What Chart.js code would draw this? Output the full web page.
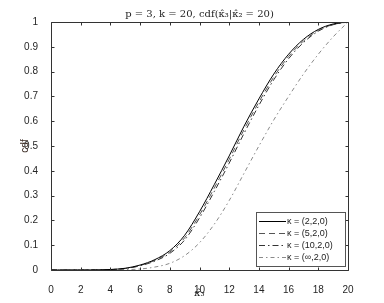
<!DOCTYPE html>
<html><head><meta charset="utf-8">
<script src="https://cdn.jsdelivr.net/npm/chart.js@4/dist/chart.umd.min.js"></script>
<style>html,body{margin:0;padding:0;background:#fff}canvas{display:block}</style>
</head><body>
<canvas id="c" width="384" height="303"></canvas>
<script>
const xValues = [0,1,2,3,4,5,6,7,8,9,10,11,12,13,14,15,16,17,18,19,20];
const cdf_2_2_0 = [0,0,0,0.0005,0.002,0.007,0.02,0.042,0.078,0.14,0.235,0.345,0.46,0.58,0.69,0.79,0.87,0.93,0.97,0.992,1];
const cdf_5_2_0 = [0,0,0,0.0004,0.0018,0.0062,0.018,0.039,0.072,0.13,0.222,0.331,0.446,0.566,0.677,0.778,0.861,0.923,0.966,0.99,1];
const cdf_10_2_0 = [0,0,0,0.0003,0.0016,0.0055,0.017,0.036,0.067,0.121,0.21,0.317,0.431,0.551,0.664,0.767,0.852,0.917,0.963,0.989,1];
const cdf_inf_2_0 = [0,0,0,0,0.0005,0.0015,0.004,0.012,0.027,0.058,0.11,0.185,0.28,0.39,0.5,0.605,0.7,0.79,0.87,0.94,1];
const seriesLabels = ['κ = (2,2,0)','κ = (5,2,0)','κ = (10,2,0)','κ = (∞,2,0)'];
const xTicks = [0,2,4,6,8,10,12,14,16,18,20];
const yTicks = [0,0.1,0.2,0.3,0.4,0.5,0.6,0.7,0.8,0.9,1];
const titleText = 'p = 3, k = 20, cdf(κ̂₃|κ̂₂ = 20)';
const xTitle = 'κ̂₃';
const yTitle = 'cdf';

function pts(arr){ return xValues.map((x,i)=>({x:x,y:arr[i]})); }
const styles = [
  {color:'#000000', dash:[], width:1},
  {color:'#555555', dash:[6,4], width:1},
  {color:'#333333', dash:[6,3,1.5,3], width:1},
  {color:'#8a8a8a', dash:[4,3,1.5,3], width:1}
];
const allData = [cdf_2_2_0, cdf_5_2_0, cdf_10_2_0, cdf_inf_2_0];
const datasets = allData.map((d,i)=>({
  label: seriesLabels[i], data: pts(d),
  borderColor: styles[i].color, borderDash: styles[i].dash, borderWidth: styles[i].width,
  pointRadius: 0, fill:false, cubicInterpolationMode:'monotone'
}));

const framePlugin = {
  id:'frame',
  afterDraw(chart){
    const ctx = chart.ctx, a = chart.chartArea, xs = chart.scales.x, ys = chart.scales.y;
    ctx.save();
    ctx.strokeStyle = '#333'; ctx.lineWidth = 1; ctx.setLineDash([]);
    ctx.beginPath();
    const L = Math.round(a.left)+0.5, R = Math.round(a.right)+0.5, T = Math.round(a.top)+0.5, B = Math.round(a.bottom)+0.5;
    ctx.rect(L, T, R-L, B-T);
    const tl = 3;
    xTicks.forEach(v=>{ const p = Math.round(xs.getPixelForValue(v))+0.5;
      ctx.moveTo(p,B); ctx.lineTo(p,B-tl); ctx.moveTo(p,T); ctx.lineTo(p,T+tl); });
    yTicks.forEach(v=>{ const p = Math.round(ys.getPixelForValue(v))+0.5;
      ctx.moveTo(L,p); ctx.lineTo(L+tl,p); ctx.moveTo(R,p); ctx.lineTo(R-tl,p); });
    ctx.stroke();
    // title
    ctx.fillStyle = '#222';
    ctx.font = '10px "DejaVu Serif", serif';
    ctx.textAlign = 'center'; ctx.textBaseline = 'middle';
    ctx.fillText(titleText, (a.left+a.right)/2, 14);
    // x title
    ctx.font = 'italic 10px "DejaVu Serif", serif';
    ctx.fillText(xTitle, (a.left+a.right)/2, 293);
    // y title
    ctx.save();
    ctx.translate(25, (a.top+a.bottom)/2);
    ctx.rotate(-Math.PI/2);
    ctx.font = '10px "Liberation Sans", Arial, sans-serif';
    ctx.fillStyle = '#3a2a22';
    ctx.fillText(yTitle, 0, 0);
    ctx.restore();
    // legend
    const bx = 256, by = 212, bw = 89, bh = 54;
    ctx.fillStyle = '#fff';
    ctx.fillRect(bx, by, bw, bh);
    ctx.strokeStyle = '#555';
    ctx.strokeRect(bx+0.5, by+0.5, bw, bh);
    ctx.font = '9px "Liberation Sans", Arial, sans-serif';
    ctx.textAlign = 'left'; ctx.textBaseline = 'middle';
    for(let i=0;i<4;i++){
      const y = Math.round(by + 8.5 + i*12.3)+0.5;
      ctx.strokeStyle = styles[i].color; ctx.setLineDash(styles[i].dash);
      ctx.beginPath(); ctx.moveTo(bx+3, y); ctx.lineTo(bx+30, y); ctx.stroke();
      ctx.setLineDash([]);
      ctx.fillStyle = '#222';
      ctx.fillText(seriesLabels[i], bx+31, y);
    }
    ctx.restore();
  }
};

new Chart(document.getElementById('c'), {
  type:'line',
  data:{datasets},
  options:{
    responsive:false, animation:false,
    layout:{padding:{left:0, top:22, right:36, bottom:0}},
    plugins:{legend:{display:false}, tooltip:{enabled:false}, title:{display:false}},
    scales:{
      x:{type:'linear', min:0, max:20, grid:{display:false}, border:{display:false},
        afterBuildTicks(s){ s.ticks = xTicks.map(v=>({value:v})); },
        afterFit(s){ s.height = 33; },
        ticks:{padding:6, maxRotation:0, color:'#262626', font:{family:'"Liberation Sans", Arial, sans-serif', size:10},
          callback:(v)=>String(v)}},
      y:{type:'linear', min:0, max:1, grid:{display:false}, border:{display:false},
        afterBuildTicks(s){ s.ticks = yTicks.map(v=>({value:v})); },
        afterFit(s){ s.width = 51; },
        ticks:{padding:5, color:'#262626', font:{family:'"Liberation Sans", Arial, sans-serif', size:10},
          callback:(v)=>String(Math.round(v*10)/10)}}
    }
  },
  plugins:[framePlugin]
});
</script>
</body></html>
